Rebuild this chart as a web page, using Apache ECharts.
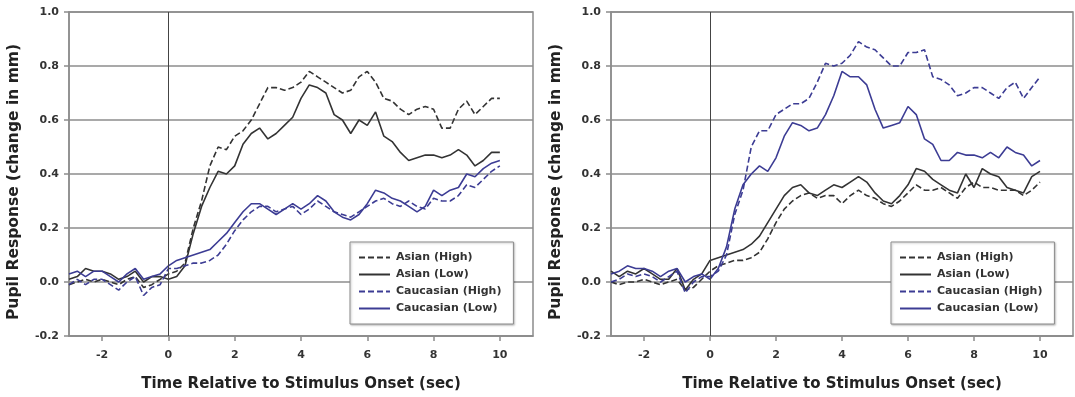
<!DOCTYPE html>
<html>
<head>
<meta charset="utf-8">
<script src="https://cdn.jsdelivr.net/npm/echarts@6/dist/echarts.min.js"></script>
<style>
  html, body { margin: 0; padding: 0; background: #fff; }
  #chart { width: 1075px; height: 397px; }
</style>
</head>
<body>
<div id="chart"></div>
<script>
// time points (sec relative to stimulus onset)
const times = [
  -3, -2.75, -2.5, -2.25, -2, -1.75, -1.5, -1.25, -1, -0.75, -0.5, -0.25, 0,
  0.25, 0.5, 0.75, 1, 1.25, 1.5, 1.75, 2, 2.25, 2.5, 2.75, 3, 3.25, 3.5, 3.75,
  4, 4.25, 4.5, 4.75, 5, 5.25, 5.5, 5.75, 6, 6.25, 6.5, 6.75, 7, 7.25, 7.5, 7.75,
  8, 8.25, 8.5, 8.75, 9, 9.25, 9.5, 9.75, 10
]

const seriesNames = ['Asian (High)', 'Asian (Low)', 'Caucasian (High)', 'Caucasian (Low)']
const xTicks = [-2, 0, 2, 4, 6, 8, 10]

// left panel
const leftAsianHigh = [
  -0.01, 0.00, 0.01, 0.00, 0.01, 0.00, -0.01, 0.01, 0.02, -0.02, -0.01, 0.01, 0.03,
  0.04, 0.07, 0.20, 0.30, 0.43, 0.50, 0.49, 0.54, 0.56, 0.60, 0.66, 0.72, 0.72, 0.71, 0.72,
  0.74, 0.78, 0.76, 0.74, 0.72, 0.70, 0.71, 0.76, 0.78, 0.74, 0.68, 0.67, 0.64, 0.62, 0.64, 0.65,
  0.64, 0.57, 0.57, 0.64, 0.67, 0.62, 0.65, 0.68, 0.68
]
const leftAsianLow = [
  0.01, 0.02, 0.05, 0.04, 0.04, 0.03, 0.01, 0.02, 0.04, 0.00, 0.02, 0.02, 0.01,
  0.02, 0.06, 0.18, 0.28, 0.35, 0.41, 0.40, 0.43, 0.51, 0.55, 0.57, 0.53, 0.55, 0.58, 0.61,
  0.68, 0.73, 0.72, 0.70, 0.62, 0.60, 0.55, 0.60, 0.58, 0.63, 0.54, 0.52, 0.48, 0.45, 0.46, 0.47,
  0.47, 0.46, 0.47, 0.49, 0.47, 0.43, 0.45, 0.48, 0.48
]
const leftCaucHigh = [
  -0.01, 0.01, -0.01, 0.01, 0.01, -0.01, -0.03, 0.00, 0.02, -0.05, -0.02, -0.01, 0.05,
  0.05, 0.06, 0.07, 0.07, 0.08, 0.10, 0.14, 0.19, 0.23, 0.26, 0.28, 0.28, 0.26, 0.27, 0.28,
  0.25, 0.27, 0.30, 0.28, 0.26, 0.25, 0.24, 0.26, 0.28, 0.30, 0.31, 0.29, 0.28, 0.30, 0.28, 0.27,
  0.31, 0.30, 0.30, 0.32, 0.36, 0.35, 0.38, 0.41, 0.43
]
const leftCaucLow = [
  0.03, 0.04, 0.02, 0.04, 0.04, 0.02, 0.00, 0.03, 0.05, 0.01, 0.02, 0.03, 0.06,
  0.08, 0.09, 0.10, 0.11, 0.12, 0.15, 0.18, 0.22, 0.26, 0.29, 0.29, 0.27, 0.25, 0.27, 0.29,
  0.27, 0.29, 0.32, 0.30, 0.26, 0.24, 0.23, 0.25, 0.29, 0.34, 0.33, 0.31, 0.30, 0.28, 0.26, 0.28,
  0.34, 0.32, 0.34, 0.35, 0.40, 0.39, 0.42, 0.44, 0.45
]

// right panel
const rightAsianHigh = [
  0.00, -0.01, 0.00, 0.00, 0.01, 0.00, -0.01, 0.00, 0.01, -0.03, -0.02, 0.01, 0.04,
  0.06, 0.07, 0.08, 0.08, 0.09, 0.11, 0.16, 0.22, 0.27, 0.30, 0.32, 0.33, 0.31, 0.32, 0.32,
  0.29, 0.32, 0.34, 0.32, 0.31, 0.29, 0.28, 0.30, 0.33, 0.36, 0.34, 0.34, 0.35, 0.33, 0.31, 0.35,
  0.37, 0.35, 0.35, 0.34, 0.34, 0.34, 0.32, 0.34, 0.37
]
const rightAsianLow = [
  0.04, 0.02, 0.04, 0.03, 0.05, 0.03, 0.01, 0.01, 0.05, -0.03, 0.01, 0.03, 0.08,
  0.09, 0.10, 0.11, 0.12, 0.14, 0.17, 0.22, 0.27, 0.32, 0.35, 0.36, 0.33, 0.32, 0.34, 0.36,
  0.35, 0.37, 0.39, 0.37, 0.33, 0.30, 0.29, 0.32, 0.36, 0.42, 0.41, 0.38, 0.36, 0.34, 0.33, 0.40,
  0.35, 0.42, 0.40, 0.39, 0.35, 0.34, 0.33, 0.39, 0.41
]
const rightCaucHigh = [
  0.00, 0.01, 0.03, 0.02, 0.03, 0.02, 0.00, 0.02, 0.04, -0.04, 0.00, 0.02, 0.02,
  0.04, 0.10, 0.25, 0.34, 0.50, 0.56, 0.56, 0.62, 0.64, 0.66, 0.66, 0.68, 0.74, 0.81, 0.80,
  0.81, 0.84, 0.89, 0.87, 0.86, 0.83, 0.80, 0.80, 0.85, 0.85, 0.86, 0.76, 0.75, 0.73, 0.69, 0.70,
  0.72, 0.72, 0.70, 0.68, 0.72, 0.74, 0.68, 0.72, 0.76
]
const rightCaucLow = [
  0.03, 0.04, 0.06, 0.05, 0.05, 0.04, 0.02, 0.04, 0.05, 0.00, 0.02, 0.03, 0.01,
  0.05, 0.13, 0.27, 0.36, 0.40, 0.43, 0.41, 0.46, 0.54, 0.59, 0.58, 0.56, 0.57, 0.62, 0.69,
  0.78, 0.76, 0.76, 0.73, 0.64, 0.57, 0.58, 0.59, 0.65, 0.62, 0.53, 0.51, 0.45, 0.45, 0.48, 0.47,
  0.47, 0.46, 0.48, 0.46, 0.50, 0.48, 0.47, 0.43, 0.45
]

const DARK = '#333333'
const BLUE = '#3c3c94'
const GRID = '#8c8c8c'
const FONT = '"DejaVu Sans", Verdana, sans-serif'

const lineStyles = [
  { color: DARK, type: [6, 3] },
  { color: DARK, type: 'solid' },
  { color: BLUE, type: [6, 3] },
  { color: BLUE, type: 'solid' }
]

const pairs = vals => times.map((t, i) => [t, vals[i]])

function makeSeries(gridIndex, sets) {
  return sets.map((vals, i) => {
    const s = {
      name: seriesNames[i],
      type: 'line',
      xAxisIndex: gridIndex,
      yAxisIndex: gridIndex,
      data: pairs(vals),
      symbol: 'none',
      smooth: false,
      color: lineStyles[i].color,
      lineStyle: { width: 1.6, color: lineStyles[i].color, type: lineStyles[i].type }
    }
    if (i === 0) {
      s.markLine = {
        silent: true,
        symbol: 'none',
        label: { show: false },
        lineStyle: { color: '#444', width: 1, type: 'solid' },
        data: [{ xAxis: 0 }]
      }
    }
    return s
  })
}

function xAxisFor(gridIndex) {
  return {
    type: 'value',
    gridIndex,
    min: -3,
    max: 11,
    name: 'Time Relative to Stimulus Onset (sec)',
    nameLocation: 'middle',
    nameGap: 41,
    nameTextStyle: { fontFamily: FONT, fontWeight: 'bold', fontSize: 15, color: '#222' },
    axisLine: { onZero: false, lineStyle: { color: GRID, width: 1.5 } },
    axisTick: { show: true, customValues: xTicks, length: 5, lineStyle: { color: GRID, width: 1.5 } },
    axisLabel: { customValues: xTicks, margin: 14, fontFamily: FONT, fontWeight: 'bold', fontSize: 11, color: '#333' },
    splitLine: { show: false }
  }
}

function yAxisFor(gridIndex) {
  return {
    type: 'value',
    gridIndex,
    min: -0.2,
    max: 1.0,
    interval: 0.2,
    name: 'Pupil Response (change in mm)',
    nameLocation: 'middle',
    nameGap: 47,
    nameRotate: 90,
    nameTextStyle: { fontFamily: FONT, fontWeight: 'bold', fontSize: 15.5, color: '#222', padding: [0, 16, 0, 0] },
    axisLine: { show: true, onZero: false, lineStyle: { color: GRID, width: 1.5 } },
    axisTick: { show: true, length: 5, lineStyle: { color: GRID, width: 1.5 } },
    axisLabel: {
      margin: 10,
      fontFamily: FONT, fontWeight: 'bold', fontSize: 11, color: '#333',
      formatter: v => v.toFixed(1)
    },
    splitLine: { show: true, lineStyle: { color: GRID, width: 1.5 } }
  }
}

function legendAt(left) {
  return {
    data: seriesNames,
    orient: 'vertical',
    left,
    top: 242,
    itemWidth: 31,
    itemHeight: 10,
    itemGap: 6,
    padding: [10, 12, 10, 8],
    backgroundColor: '#fff',
    borderColor: '#8c8c8c',
    borderWidth: 1,
    shadowColor: 'rgba(0,0,0,0.25)',
    shadowBlur: 2,
    shadowOffsetX: 1,
    shadowOffsetY: 1,
    selectedMode: false,
    itemStyle: { opacity: 0 },
    textStyle: { fontFamily: FONT, fontWeight: 'bold', fontSize: 11, color: '#333', padding: [0, 0, 0, 1] }
  }
}

const chart = echarts.init(document.getElementById('chart'), null, { renderer: 'canvas' })
chart.setOption({
  backgroundColor: '#fff',
  animation: false,
  grid: [
    { left: 69, right: 542, top: 12, bottom: 60, show: true, borderColor: GRID, borderWidth: 1.5 },
    { left: 611, right: 2, top: 12, bottom: 60, show: true, borderColor: GRID, borderWidth: 1.5 }
  ],
  xAxis: [xAxisFor(0), xAxisFor(1)],
  yAxis: [yAxisFor(0), yAxisFor(1)],
  legend: [legendAt(350), legendAt(891)],
  series: [
    ...makeSeries(0, [leftAsianHigh, leftAsianLow, leftCaucHigh, leftCaucLow]),
    ...makeSeries(1, [rightAsianHigh, rightAsianLow, rightCaucHigh, rightCaucLow])
  ]
})
</script>
</body>
</html>
